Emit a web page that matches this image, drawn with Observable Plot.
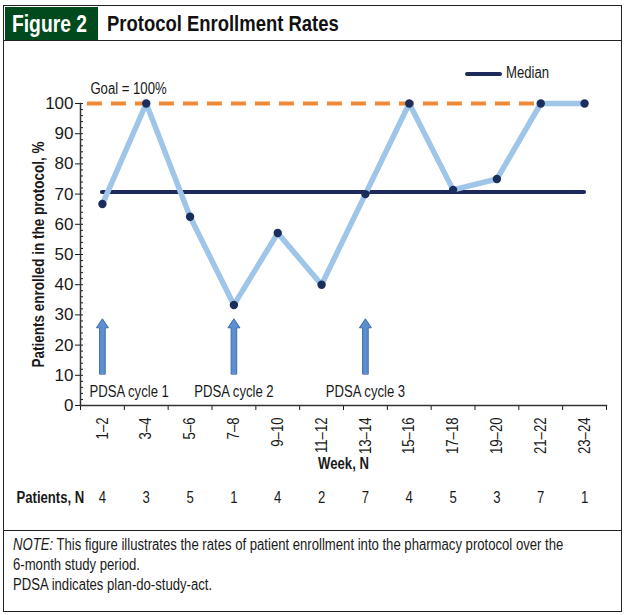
<!DOCTYPE html>
<html><head><meta charset="utf-8">
<script src="https://cdn.jsdelivr.net/npm/d3@7"></script>
<script src="https://cdn.jsdelivr.net/npm/@observablehq/plot@0.6"></script>
<style>
body{margin:0;background:#fff;}
#wrap{position:relative;width:628px;height:615px;font-family:"Liberation Sans",Arial,sans-serif;color:#1a1a1a;overflow:hidden;}
.abs{position:absolute;}
.cond{display:inline-block;transform:scaleX(0.82);transform-origin:0 50%;white-space:nowrap;}
#frame{left:3px;top:5px;width:617px;height:605px;border:1.5px solid #222;}
#hline{left:3px;top:40px;width:619px;height:0;border-top:1.5px solid #222;}
#nline{left:3px;top:530px;width:619px;height:0;border-top:1.5px solid #222;}
#green{left:4.5px;top:6.5px;width:93px;height:34px;background:#004a1e;}
#fig{left:12px;top:6.5px;height:34px;line-height:34px;color:#fff;font-weight:bold;font-size:23.5px;}
#title{left:107px;top:6.5px;height:34px;line-height:34px;color:#111;font-weight:bold;font-size:22.5px;}
#chart{left:0;top:41px;}
#legend{left:465px;top:63px;height:20px;line-height:20px;font-size:16px;white-space:nowrap;}
#legend .ln{display:inline-block;width:37px;height:4px;border-radius:2px;background:#1f2a5c;vertical-align:middle;margin-right:4px;}
#note{left:13px;top:535px;font-size:16px;line-height:20px;color:#1a1a1a;}
</style></head>
<body>
<div id="wrap">
  <div class="abs" id="frame"></div>
  <div class="abs" id="green"></div>
  <div class="abs" id="fig"><span class="cond">Figure 2</span></div>
  <div class="abs" id="title"><span class="cond">Protocol Enrollment Rates</span></div>
  <div class="abs" id="hline"></div>
  <div class="abs" id="chart"></div>
  <div class="abs" id="legend"><span class="ln"></span><span class="cond">Median</span></div>
  <div class="abs" id="nline"></div>
  <div class="abs" id="note">
    <span class="cond"><i>NOTE:</i> This figure illustrates the rates of patient enrollment into the pharmacy protocol over the</span><br>
    <span class="cond">6-month study period.</span><br>
    <span class="cond">PDSA indicates plan-do-study-act.</span>
  </div>
</div>
<script>
// ---- data ----
const weeks = ["1–2","3–4","5–6","7–8","9–10","11–12","13–14","15–16","17–18","19–20","21–22","23–24"];
const rates = [66.7, 100, 62.5, 33.3, 57.1, 40, 70, 100, 71.4, 75, 100, 100];
const patients = [4, 3, 5, 1, 4, 2, 7, 4, 5, 3, 7, 1];
const median = 70.7;
const goal = 100;
const cycleWeeks = ["1–2", "7–8", "13–14"];
const cycleLabels = ["PDSA cycle 1", "PDSA cycle 2", "PDSA cycle 3"];
const arrowBase = 10.5;
const yTicks = [0,10,20,30,40,50,60,70,80,90,100];
const yMinorTicks = [0,2,4,6,8,10,12,14,16,18,20,22,24,26,28,30,32,34,36,38,40,42,44,46,48,50,52,54,56,58,60,62,64,66,68,70,72,74,76,78,80,82,84,86,88,90,92,94,96,98,100];

const idx = weeks.map((d, i) => i);
const boundaries = weeks.map((d, i) => i - 0.5).concat([weeks.length - 0.5]);
const cycles = cycleWeeks.map((w, k) => ({i: weeks.indexOf(w), label: cycleLabels[k]}));
const blank = () => "";

const blockArrow = {
  draw(ctx, l) {
    const w = 2.8, hw = 6, hl = 9;
    ctx.moveTo(-w, 0);
    ctx.lineTo(-w, -l + hl);
    ctx.lineTo(-hw, -l + hl);
    ctx.lineTo(0, -l);
    ctx.lineTo(hw, -l + hl);
    ctx.lineTo(w, -l + hl);
    ctx.lineTo(w, 0);
    ctx.closePath();
  }
};

const chart = Plot.plot({
  width: 628, height: 490,
  marginLeft: 80, marginRight: 22, marginTop: 62, marginBottom: 126,
  style: {background: "transparent", fontFamily: '"Liberation Sans",Arial,sans-serif', fontSize: "16px", color: "#1a1a1a", overflow: "visible"},
  x: {type: "linear", domain: [-0.5, weeks.length - 0.5]},
  y: {domain: [0, 100]},
  marks: [
    Plot.axisY({ticks: yTicks, tickSize: 5, tickPadding: 2, fontSize: 17, label: null}),
    Plot.axisY({ticks: yMinorTicks, tickSize: 3, dx: 3, tickFormat: blank, label: null}),
    Plot.axisX({ticks: boundaries, tickSize: 5, tickFormat: blank, label: null}),
    Plot.axisX({ticks: idx, tickFormat: i => weeks[i], tickSize: 0, tickPadding: 12, tickRotate: -90, fontSize: 16, label: null}),
    Plot.frame({anchor: "left", stroke: "#333", strokeWidth: 1.5}),
    Plot.frame({anchor: "bottom", stroke: "#333", strokeWidth: 1.5}),
    Plot.text(["Patients enrolled in the protocol, %"], {frameAnchor: "left", textAnchor: "middle", rotate: -90, dx: -42, fontWeight: "bold", fontSize: 16.5}),
    Plot.ruleY([goal], {x1: 0, x2: weeks.length - 1, insetLeft: -15, insetRight: -2, stroke: "#ef8a3a", strokeWidth: 4, strokeDasharray: "15,9"}),
    Plot.ruleY([median], {x1: 0, x2: weeks.length - 1, stroke: "#1f2a5c", strokeWidth: 4, strokeLinecap: "round"}),
    Plot.lineY(rates, {x: (d, i) => i, y: d => d, stroke: "#9fc5e8", strokeWidth: 5.5}),
    Plot.dot(rates, {x: (d, i) => i, y: d => d, r: 4.2, fill: "#1b2f5e"}),
    Plot.text(["Goal = 100%"], {x: 0, y: goal, dx: -12, dy: -15, textAnchor: "start"}),
    Plot.vector(cycles, {x: "i", y: arrowBase, length: 55, anchor: "start", shape: blockArrow, fill: "#5b8fcf", stroke: "#3d6ca8", strokeWidth: 1}),
    Plot.text(cycles.slice(0, 1), {x: "i", y: 0, text: "label", dx: -13, dy: -14, textAnchor: "start"}),
    Plot.text(cycles.slice(1), {x: "i", y: 0, text: "label", dy: -14}),
    Plot.text(["Week, N"], {frameAnchor: "bottom", dy: 63, fontWeight: "bold"}),
    Plot.text(["Patients, N"], {frameAnchor: "bottom-left", dx: -64, dy: 97, textAnchor: "start", fontWeight: "bold"}),
    Plot.text(patients, {x: (d, i) => i, frameAnchor: "bottom", dy: 97})
  ]
});
// condense all chart text except the y tick labels (reference uses a condensed face)
chart.querySelectorAll("text").forEach(t => {
  if (t.closest('g[aria-label="y-axis tick label"]')) return;
  const tr = t.getAttribute("transform");
  if (tr) t.setAttribute("transform", tr + " scale(0.82,1)");
});
document.getElementById("chart").appendChild(chart);
</script>
</body></html>
